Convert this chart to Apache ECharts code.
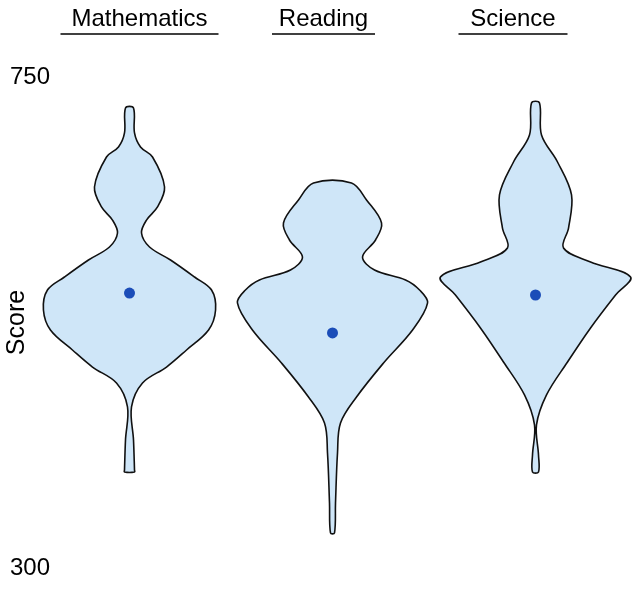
<!DOCTYPE html>
<html>
<head>
<meta charset="utf-8">
<script src="https://cdn.jsdelivr.net/npm/echarts@6/dist/echarts.min.js"></script>
<style>html,body{margin:0;padding:0;background:#fff}#c{width:633px;height:595px}</style>
</head>
<body>
<div id="c"></div>
<script>
// Categories
const subjects = ['Mathematics', 'Reading', 'Science'];
// Y tick labels
const yTicks = [300, 750];
// Density profiles (score levels and relative density)
const mathScores   = [721.6, 698.7, 685.8, 676.7, 649.2, 630.9, 618.9, 607.0, 594.2, 582.3, 566.7, 554.8, 536.5, 518.1, 499.8, 484.2, 469.6, 447.6, 417.3, 389.8, 388.0];
const mathDensity  = [4, 5, 11, 23, 35, 28, 17, 12, 20, 41, 65, 82, 86, 79, 57, 37, 13, 2, 4, 5, 5];
const readScores   = [652.9, 637.3, 616.2, 600.6, 585.0, 573.1, 564.0, 554.8, 542.9, 518.1, 487.9, 456.7, 432.9, 405.4, 359.6, 332.1];
const readDensity  = [19, 34, 49, 43, 30, 42, 73, 87, 95, 80, 51, 24, 8, 5, 3, 2];
const sciScores    = [726.2, 696.8, 672.1, 641.9, 611.6, 593.3, 580.4, 566.7, 550.2, 520.0, 488.8, 458.6, 431.1, 403.6, 388.0];
const sciDensity   = [4, 6, 22, 36, 33, 28, 55, 95, 80, 55, 32, 11, 1, 3, 3];
// Means
const means = [552, 515.4, 550.2];

const profiles = [
  {s: mathScores, d: mathDensity},
  {s: readScores, d: readDensity},
  {s: sciScores,  d: sciDensity}
];

const chart = echarts.init(document.getElementById('c'));
const FONT = '"Liberation Sans", Arial, sans-serif';
const DENS_SCALE = 0.00493; // fraction of category band per density unit

chart.setOption({
  animation: false,
  grid: {left: 28, right: -4, top: 77, bottom: 27, containLabel: false, outerBoundsMode: 'none'},
  xAxis: {
    type: 'category',
    position: 'top',
    data: subjects,
    axisLine: {show: false},
    axisTick: {show: false},
    splitLine: {show: false},
    axisLabel: {
      margin: 42,
      interval: 0,
      formatter: function (v, i) {
        const pre = ['{sp0| }', '', ''][i];
        const post = ['', '{sp1| }', '{sp2| }'][i];
        return pre + '{t|' + v + '}' + post + '\n' + pre + '{u' + i + '|}' + post;
      },
      rich: {
        t: {fontFamily: FONT, fontSize: 24, color: '#000', lineHeight: 28},
        sp0: {width: 20, fontSize: 1, lineHeight: 1},
        sp1: {width: 18, fontSize: 1, lineHeight: 1},
        sp2: {width: 45, fontSize: 1, lineHeight: 1},
        u0: {width: 158, height: 1.3, lineHeight: 2, backgroundColor: '#000'},
        u1: {width: 103, height: 1.3, lineHeight: 2, backgroundColor: '#000'},
        u2: {width: 109, height: 1.3, lineHeight: 2, backgroundColor: '#000'}
      }
    }
  },
  yAxis: {
    type: 'value',
    min: 300,
    max: 750,
    interval: 450,
    name: 'Score',
    nameLocation: 'middle',
    nameRotate: 90,
    nameGap: -2,
    nameMoveOverlap: false,
    nameTextStyle: {fontFamily: FONT, fontSize: 25, color: '#000'},
    axisLine: {show: false},
    axisTick: {show: false},
    splitLine: {show: false},
    axisLabel: {
      margin: 18,
      align: 'left',
      fontFamily: FONT,
      fontSize: 24,
      color: '#000',
      formatter: function (v) { return yTicks.indexOf(v) >= 0 ? String(v) : ''; }
    }
  },
  series: [
    {
      type: 'custom',
      data: subjects.map((s, i) => [i]),
      renderItem: function (params, api) {
        const i = api.value(0);
        const p = profiles[i];
        const band = api.size([1, 0])[0];
        const left = [], right = [];
        for (let k = 0; k < p.s.length; k++) {
          const c = api.coord([i, p.s[k]]);
          const hw = p.d[k] * DENS_SCALE * band;
          left.push([c[0] - hw, c[1]]);
          right.push([c[0] + hw, c[1]]);
        }
        const pts = left.concat(right.reverse());
        return {
          type: 'polygon',
          shape: {points: pts, smooth: 0.35},
          style: {fill: '#cfe6f8', stroke: '#111', lineWidth: 1.6}
        };
      },
      z: 2
    },
    {
      type: 'scatter',
      data: means.map((m, i) => [i, m]),
      symbol: 'circle',
      symbolSize: 11,
      itemStyle: {color: '#1b4db8', opacity: 1},
      z: 3
    }
  ]
});
</script>
</body>
</html>
